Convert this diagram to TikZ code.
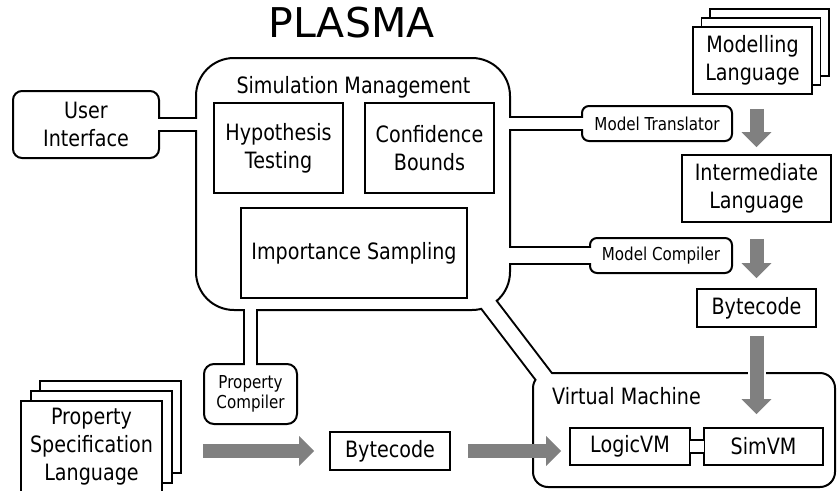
\documentclass[tikz,border=0pt]{standalone}
\usepackage{fontspec}
\setmainfont{DejaVu Sans}[FakeStretch=0.85]
\newfontfamily\titlefont{DejaVu Sans}
\usetikzlibrary{arrows.meta,shadows}

\definecolor{arrowgray}{RGB}{128,128,128}
\newcommand{\bigtext}{\fontsize{22.5}{28}\selectfont}
\newcommand{\smalltext}{\fontsize{17.8}{20}\selectfont}

\pgfdeclarelayer{ducts}
\pgfsetlayers{ducts,main}

\tikzset{
  roundbox/.style={draw, fill=white, line width=2pt, rounded corners=#1,
    inner sep=0pt, align=center, font=\bigtext},
  roundbox/.default=9pt,
  sqbox/.style={draw, fill=white, line width=1.6pt, inner sep=0pt,
    align=center, font=\bigtext},
  duct/.style={line width=#1},
  ductcore/.style={white, line width=#1},
  flow/.style={draw=arrowgray, line width=14pt,
    -{Triangle[width=29pt,length=15pt]}},
  halo/.style={preaction={draw=white, line width=18pt, -}}
}

\begin{document}
\begin{tikzpicture}[x=1pt, y=-1pt]
\useasboundingbox (0,0) rectangle (838,490);

\node (title) at (351.5,22.5) {\titlefont\fontsize{41}{45}\selectfont PLASMA};

% outer units
\node[roundbox=38pt, minimum width=314pt, minimum height=252pt] (sm) at (353,184) {};
\node (smlabel) at (353.5,87) {\bigtext Simulation Management};
\node[roundbox, minimum width=146pt, minimum height=67pt] (ui) at (86,124.5) {User\\Interface};
\node[roundbox=7pt, minimum width=150pt, minimum height=35pt, font=\smalltext] (mt) at (657,123.5) {Model Translator};
\node[roundbox=7pt, minimum width=142pt, minimum height=35pt, font=\smalltext] (mc) at (661,255.5) {Model Compiler};
\node[roundbox=10pt, minimum width=93pt, minimum height=60pt, font=\smalltext] (pc) at (250.5,394) {Property\\Compiler};
\node[roundbox=15pt, minimum width=302pt, minimum height=114pt] (vm) at (684,430) {};
\node (vmlabel) at (626.5,396.5) {\bigtext Virtual Machine};

\begin{pgfonlayer}{ducts}
\draw[duct=15pt] (ui.center) -- (ui.center -| sm.center);
\draw[duct=15pt] (mt.center) -- (mt.center -| sm.center);
\draw[duct=19pt] (mc.center) -- (mc.center -| sm.center);
\draw[duct=15pt] (pc.center) -- (pc.center |- sm.center);
\draw[duct=19pt] ([shift={(-28,-14)}]sm.south east) -- ([shift={(19,14)}]vm.north west);
\end{pgfonlayer}

\draw[ductcore=11pt, shorten <=-4pt, shorten >=-4pt] (ui.east) -- (ui.east -| sm.west);
\draw[ductcore=11pt, shorten <=-4pt, shorten >=-4pt] (mt.west) -- (mt.west -| sm.east);
\draw[ductcore=15pt, shorten <=-4pt, shorten >=-4pt] (mc.west) -- (mc.west -| sm.east);
\draw[ductcore=11pt, shorten <=-4pt, shorten >=-4pt] (pc.north) -- (pc.north |- sm.south);
\draw[ductcore=15pt] ([shift={(-28,-14)}]sm.south east) -- ([shift={(19,14)}]vm.north west);

% inside simulation management
\node[sqbox, minimum width=129pt, minimum height=90pt] (ht) at (278.5,148) {Hypothesis\\Testing};
\node[sqbox, minimum width=129pt, minimum height=90pt] (cb) at (429.5,148) {Confidence\\Bounds};
\node[sqbox, minimum width=226pt, minimum height=90pt] (is) at (354,253) {Importance Sampling};

% languages and bytecode
\node[sqbox, minimum width=119pt, minimum height=67pt,
  copy shadow={shadow xshift=17pt, shadow yshift=18pt},
  copy shadow={shadow xshift=8.5pt, shadow yshift=9pt}] (ml) at (752.5,60.5) {Modelling\\Language};
\node[sqbox, minimum width=149pt, minimum height=67pt] (il) at (756.5,188.5) {Intermediate\\Language};
\node[sqbox, minimum width=119pt, minimum height=38pt] (bc) at (756.5,308) {Bytecode};
\node[sqbox, minimum width=141pt, minimum height=92pt,
  copy shadow={shadow xshift=19pt, shadow yshift=20pt},
  copy shadow={shadow xshift=10pt, shadow yshift=10pt}] (psl) at (91.5,447) {Property\\Specification\\Language};
\node[sqbox, minimum width=120pt, minimum height=38pt] (pbc) at (390,451) {Bytecode};

% virtual machine
\node[sqbox, minimum width=120pt, minimum height=37pt] (logic) at (630,446.5) {LogicVM};
\node[sqbox, minimum width=119pt, minimum height=37pt] (sim) at (763.5,446.5) {SimVM};
\draw[line width=1.6pt, double=white, double distance=11.4pt,
  shorten <=-0.8pt, shorten >=-0.8pt] (logic.east) -- (sim.west);

\draw[flow, shorten <=14pt, shorten >=7pt] (il.north |- ml.south) -- (il.north);
\draw[flow, shorten <=16pt, shorten >=10pt] (il.south) -- (bc.north);
\draw[flow, halo, shorten <=8pt, shorten >=13pt] (bc.south) -- (bc.south |- sim.north);
\draw[flow, shorten <=40pt, shorten >=15pt] (pbc.west -| psl.east) -- (pbc.west);
\draw[flow, shorten <=17pt, shorten >=8pt] (pbc.east) -- (pbc.east -| logic.west);

\end{tikzpicture}
\end{document}
